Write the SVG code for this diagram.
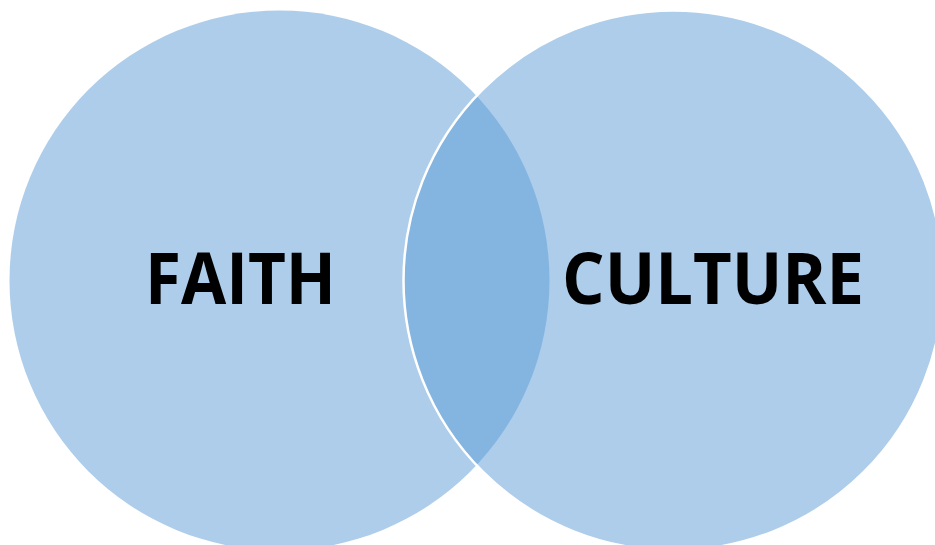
<svg xmlns="http://www.w3.org/2000/svg" width="935" height="545" viewBox="0 0 935 545">
  <style>
    .set { fill: #5B9BD5; fill-opacity: 0.5; }
    .label { font-family: "Open Sans", "Lato", "Liberation Sans", sans-serif; font-weight: bold; font-size: 72px; fill: #000000; text-anchor: middle; }
  </style>
  <rect x="0" y="0" width="935" height="545" fill="#FFFFFF"/>
  <g id="faith">
    <circle class="set" cx="279.5" cy="280.5" r="270"/>
  </g>
  <g id="culture">
    <circle class="set" cx="673.5" cy="280.5" r="270" stroke="#FFFFFF" stroke-width="2.5"/>
  </g>
  <g id="labels">
    <text id="faith-label" class="label" x="240.5" y="304" textLength="191" lengthAdjust="spacingAndGlyphs">FAITH</text>
    <text id="culture-label" class="label" x="713" y="304" textLength="302" lengthAdjust="spacingAndGlyphs">CULTURE</text>
  </g>
  <g id="connectors"/>
</svg>
